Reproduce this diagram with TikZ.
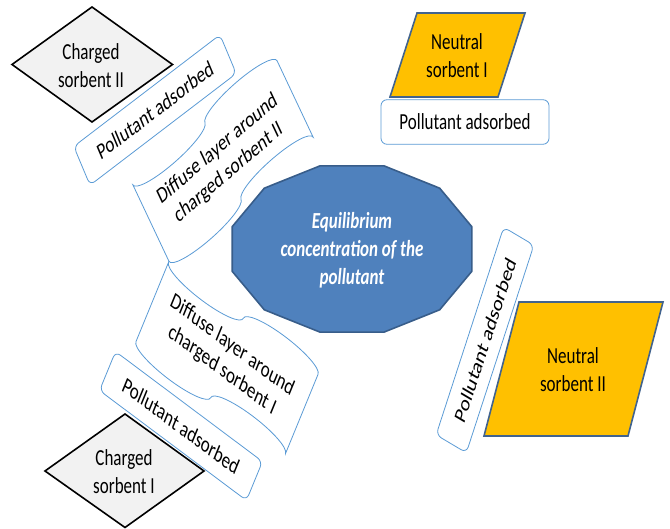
\documentclass[tikz,border=0pt]{standalone}
\usepackage{fontspec}
\setmainfont{Carlito}
\definecolor{boxblue}{HTML}{5B9BD5}
\definecolor{octfill}{HTML}{4F81BD}
\definecolor{octdraw}{HTML}{385D8A}
\definecolor{goldfill}{HTML}{FFC000}
\definecolor{golddraw}{HTML}{41638E}
\definecolor{diagray}{HTML}{F2F2F2}
\tikzset{
  txt/.style={font=\fontsize{17}{20.7}\selectfont, align=center, inner sep=0pt},
  pbox/.style={txt, draw=boxblue, fill=white, line width=0.8pt, rounded corners=6pt,
    minimum width=168pt, minimum height=33pt},
  wavebox/.style={draw=boxblue, fill=white, line width=0.8pt},
  diabox/.style={draw=black, fill=diagray, line width=1.6pt},
  parbox/.style={draw=golddraw, fill=goldfill, line width=1.6pt},
  octbox/.style={draw=octdraw, fill=octfill, line width=1.6pt},
  octtxt/.style={txt, text=white, font=\fontsize{17}{20.7}\selectfont\bfseries\itshape},
}
\begin{document}
\begin{tikzpicture}[x=1pt, y={(0pt,-0.740741pt)}, yscale=1.35, transform shape]
\useasboundingbox (0,0) rectangle (670,529);

% upper wave (diffuse layer II)
\begin{scope}[shift={(223,161)}, rotate=32.5, y=1pt]
  \draw[wavebox] (-85.5,33.6) arc[start angle=180,end angle=360,x radius=42.75,y radius=8.4]
     arc[start angle=180,end angle=0,x radius=42.75,y radius=8.4] -- (85.5,-33.6)
     arc[start angle=0,end angle=180,x radius=42.75,y radius=8.4]
     arc[start angle=0,end angle=-180,x radius=42.75,y radius=8.4] -- cycle;
  \node[txt] (w2) at (0,0) {Diffuse layer around\\charged sorbent II};
\end{scope}

% lower wave (diffuse layer I)
\begin{scope}[shift={(227,358)}, rotate=-29, y=1pt]
  \draw[wavebox] (-85.5,33.6) arc[start angle=180,end angle=360,x radius=42.75,y radius=8.4]
     arc[start angle=180,end angle=0,x radius=42.75,y radius=8.4] -- (85.5,-33.6)
     arc[start angle=0,end angle=180,x radius=42.75,y radius=8.4]
     arc[start angle=0,end angle=-180,x radius=42.75,y radius=8.4] -- cycle;
  \node[txt] (w1) at (0,0) {Diffuse layer around\\charged sorbent I};
\end{scope}

% pollutant adsorbed boxes
\node[pbox] (p1) at (465,122) {Pollutant adsorbed};
\node[pbox, rotate=29.5] (p2) at (155,110) {Pollutant adsorbed};
\node[pbox, rotate=-29] (p3) at (181,426) {Pollutant adsorbed};
\node[pbox, rotate=66.3] (p4) at (485,340) {Pollutant adsorbed};

% central dodecagon
\draw[octbox] (471.8,226.7) -- (439.7,188.2) -- (384.1,165.9) -- (319.9,165.9)
  -- (264.3,188.2) -- (232.2,226.7) -- (232.2,271.3) -- (264.3,309.8)
  -- (319.9,332.1) -- (384.1,332.1) -- (439.7,309.8) -- (471.8,271.3) -- cycle;
\node[octtxt] (eq) at (352,250) {Equilibrium\\concentration of the\\pollutant};

% neutral sorbents
\draw[parbox] (417,13) -- (525,13) -- (498,97) -- (390,97) -- cycle;
\node[txt] (n1) at (457,56) {Neutral\\sorbent I};
\draw[parbox] (519,302) -- (663,302) -- (628,436) -- (484,436) -- cycle;
\node[txt] (n2) at (573,370) {Neutral\\sorbent II};

% charged sorbents
\draw[diabox] (12,64.5) -- (92,7) -- (172.5,64.5) -- (92,122) -- cycle;
\node[txt] (c2) at (91,66) {Charged\\sorbent II};
\draw[diabox] (45,471) -- (125,414) -- (204,471) -- (125,527.5) -- cycle;
\node[txt] (c1) at (124,472) {Charged\\sorbent I};
\end{tikzpicture}
\end{document}
